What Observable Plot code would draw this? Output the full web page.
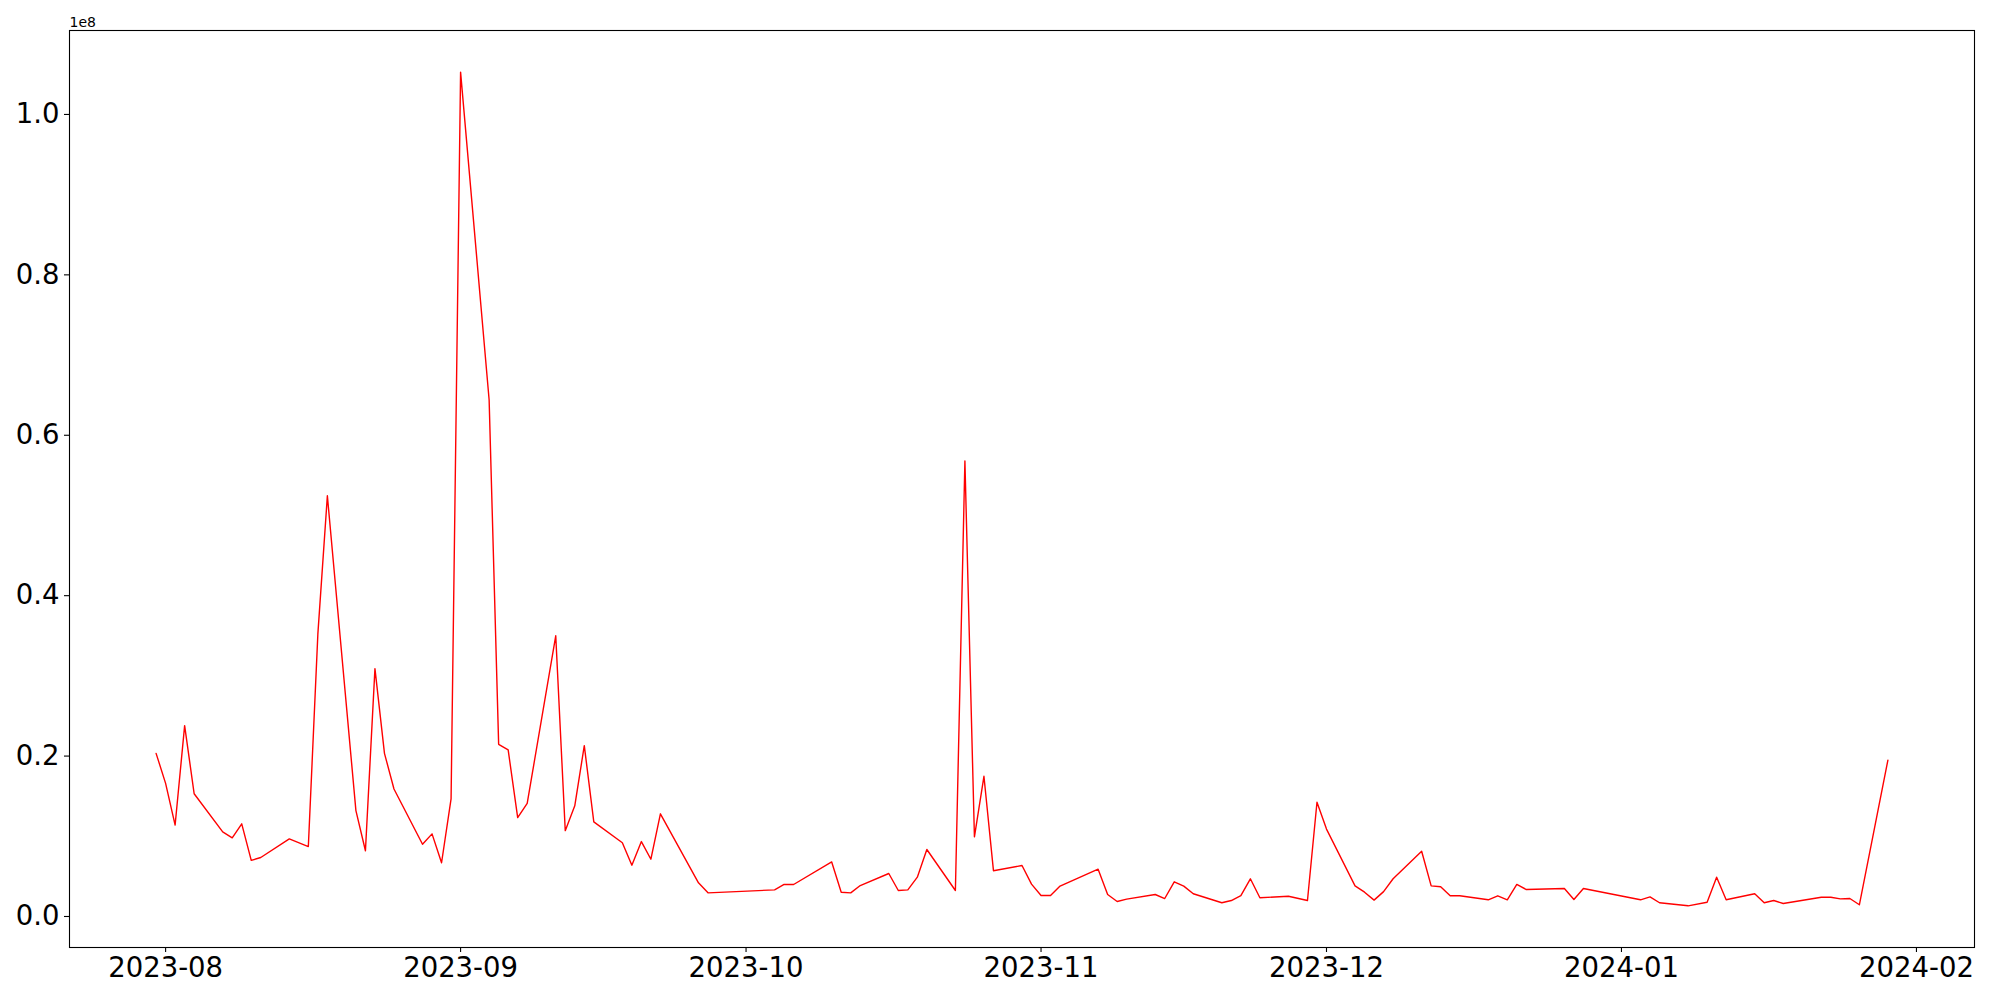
<!DOCTYPE html>
<html>
<head>
<meta charset="utf-8">
<script src="https://cdn.jsdelivr.net/npm/d3@7"></script>
<script src="https://cdn.jsdelivr.net/npm/@observablehq/plot@0.6"></script>
<style>
  html, body { margin: 0; padding: 0; background: #fff; }
  #chart svg { display: block; font-family: "DejaVu Sans", sans-serif; }
</style>
</head>
<body>
<div id="chart"></div>
<script>
const dates = [
  "2023-07-31","2023-08-01","2023-08-02","2023-08-03","2023-08-04",
  "2023-08-07","2023-08-08","2023-08-09","2023-08-10","2023-08-11",
  "2023-08-14","2023-08-16","2023-08-17","2023-08-18",
  "2023-08-21","2023-08-22","2023-08-23","2023-08-24","2023-08-25",
  "2023-08-28","2023-08-29","2023-08-30","2023-08-31","2023-09-01",
  "2023-09-04","2023-09-05","2023-09-06","2023-09-07","2023-09-08",
  "2023-09-11","2023-09-12","2023-09-13","2023-09-14","2023-09-15",
  "2023-09-18","2023-09-19","2023-09-20","2023-09-21","2023-09-22",
  "2023-09-26","2023-09-27",
  "2023-10-04","2023-10-05","2023-10-06",
  "2023-10-10","2023-10-11","2023-10-12","2023-10-13",
  "2023-10-16","2023-10-17","2023-10-18","2023-10-19","2023-10-20",
  "2023-10-23","2023-10-24","2023-10-25","2023-10-26","2023-10-27",
  "2023-10-30","2023-10-31","2023-11-01","2023-11-02","2023-11-03",
  "2023-11-07","2023-11-08","2023-11-09","2023-11-10",
  "2023-11-13","2023-11-14","2023-11-15","2023-11-16","2023-11-17",
  "2023-11-20","2023-11-21","2023-11-22","2023-11-23","2023-11-24",
  "2023-11-27","2023-11-29","2023-11-30","2023-12-01",
  "2023-12-04","2023-12-05","2023-12-06","2023-12-07","2023-12-08",
  "2023-12-11","2023-12-12","2023-12-13","2023-12-14","2023-12-15",
  "2023-12-18","2023-12-19","2023-12-20","2023-12-21","2023-12-22",
  "2023-12-26","2023-12-27","2023-12-28",
  "2024-01-03","2024-01-04","2024-01-05",
  "2024-01-08","2024-01-10","2024-01-11","2024-01-12",
  "2024-01-15","2024-01-16","2024-01-17","2024-01-18",
  "2024-01-22","2024-01-23","2024-01-24","2024-01-25","2024-01-26",
  "2024-01-29"
];

const values = [
  20340000, 16600000, 11400000, 23800000, 15300000,
  10550000, 9800000, 11550000, 7000000, 7350000,
  9680000, 8720000, 35200000, 52450000,
  13200000, 8200000, 30900000, 20340000, 15900000,
  9000000, 10300000, 6700000, 14660000, 105270000,
  64400000, 21470000, 20770000, 12330000, 14100000,
  35000000, 10700000, 13800000, 21300000, 11800000,
  9200000, 6400000, 9340000, 7140000, 12800000,
  4200000, 2950000,
  3320000, 3990000, 3990000,
  6800000, 3030000, 2950000, 3860000,
  5360000, 3240000, 3320000, 4900000, 8350000,
  3240000, 56800000, 9930000, 17480000, 5710000,
  6350000, 4030000, 2610000, 2610000, 3790000,
  5900000, 2740000, 1870000, 2160000,
  2740000, 2240000, 4320000, 3780000, 2830000,
  1710000, 1990000, 2600000, 4700000, 2330000,
  2530000, 1990000, 14240000, 10900000,
  3820000, 3030000, 2040000, 3100000, 4700000,
  8140000, 3820000, 3700000, 2580000, 2580000,
  2080000, 2580000, 2080000, 3990000, 3360000,
  3490000, 2120000, 3490000,
  2080000, 2450000, 1710000,
  1330000, 1780000, 4900000, 2080000,
  2830000, 1710000, 1990000, 1620000,
  2400000, 2400000, 2200000, 2240000, 1460000,
  19500000
];

const yTicks = [0, 20000000, 40000000, 60000000, 80000000, 100000000];
const xTickLabels = ["2023-08","2023-09","2023-10","2023-11","2023-12","2024-01","2024-02"];
const offsetLabel = ["1e8"];

const parse = d3.utcParse("%Y-%m-%d");
const data = dates.map((d, i) => ({date: parse(d), value: values[i]}));
const xTicks = xTickLabels.map(s => d3.utcParse("%Y-%m")(s));

// matplotlib-style 5% margins around the data extent
const [x0, x1] = d3.extent(data, d => +d.date);
const xPad = (x1 - x0) * 0.05;
const [y0, y1] = d3.extent(data, d => d.value);
const yPad = (y1 - y0) * 0.05;

const fmtX = d3.utcFormat("%Y-%m");

const chart = Plot.plot({
  width: 2000,
  height: 1000,
  marginLeft: 69,
  marginRight: 26,
  marginTop: 30,
  marginBottom: 53,
  style: {fontFamily: "DejaVu Sans, sans-serif", background: "#fff", color: "#000"},
  x: {type: "utc", domain: [new Date(x0 - xPad), new Date(x1 + xPad)]},
  y: {domain: [y0 - yPad, y1 + yPad]},
  marks: [
    Plot.lineY(data, {x: "date", y: "value", stroke: "#ff0000", strokeWidth: 1.4}),
    Plot.frame({stroke: "#000", strokeWidth: 1.1}),
    Plot.axisX({
      ticks: xTicks,
      tickFormat: d => fmtX(d),
      tickSize: 5,
      tickPadding: 5,
      fontSize: 27.5,
      stroke: "#000",
      strokeWidth: 1.1,
      label: null
    }),
    Plot.axisY({
      ticks: yTicks,
      tickFormat: d => (d / 1e8).toFixed(1),
      tickSize: 5,
      tickPadding: 5,
      fontSize: 27.5,
      stroke: "#000",
      strokeWidth: 1.1,
      label: null
    }),
    Plot.text(offsetLabel, {
      text: d => d,
      frameAnchor: "top-left",
      textAnchor: "start",
      lineAnchor: "bottom",
      dy: -4,
      fontSize: 14,
      fill: "#000"
    })
  ]
});

document.getElementById("chart").appendChild(chart);
</script>
</body>
</html>
